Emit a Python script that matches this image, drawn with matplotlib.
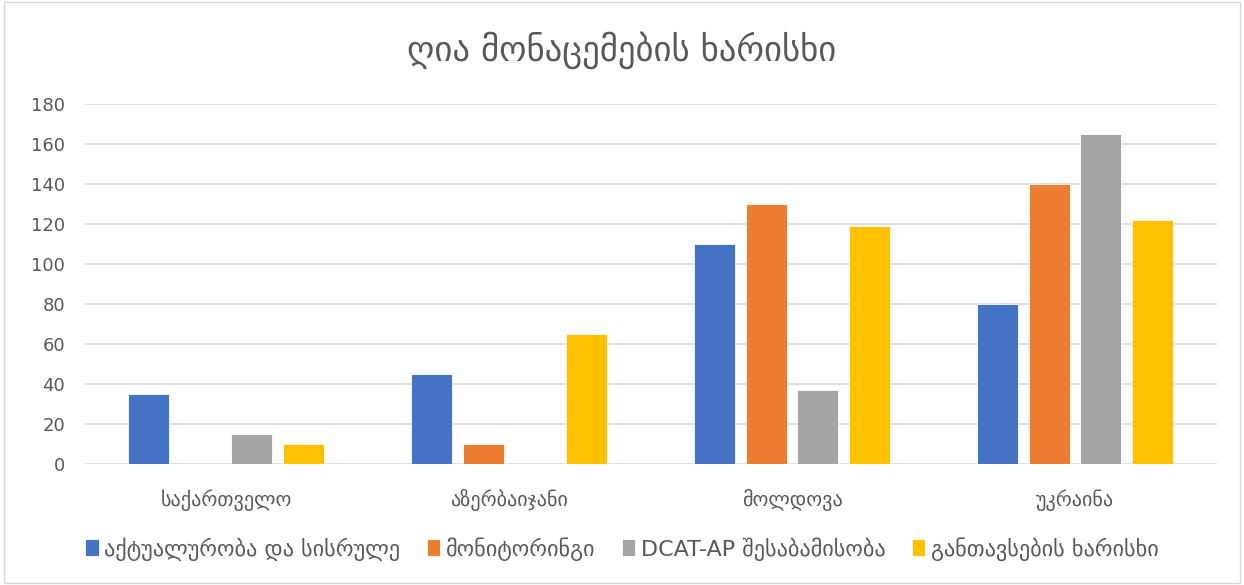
import matplotlib.pyplot as plt
import numpy as np
from matplotlib.patches import Rectangle

plt.rcParams['font.family'] = ['DejaVu Sans']

categories = ["საქართველო", "აზერბაიჯანი", "მოლდოვა", "უკრაინა"]
series_names = ["აქტუალურობა და სისრულე", "მონიტორინგი", "DCAT-AP შესაბამისობა", "განთავსების ხარისხი"]
actuality = [35, 45, 110, 80]
monitoring = [0, 10, 130, 140]
dcat = [15, 0, 37, 165]
placement = [10, 65, 119, 122]
colors = ["#4472C4", "#ED7D31", "#A5A5A5", "#FFC000"]

series = [actuality, monitoring, dcat, placement]
text_color = "#595959"

fig = plt.figure(figsize=(12.44, 5.85), dpi=100)
ax = fig.add_axes([0.068, 0.207, 0.910, 0.615])

x = np.arange(len(categories))
step = 0.182
width = 0.145
for i, vals in enumerate(series):
    ax.bar(x + (i - 1.5) * step, vals, width, color=colors[i], label=series_names[i],
           edgecolor="white", linewidth=0.6, zorder=3)

ax.set_xlim(-0.5, len(categories) - 0.5)
ax.set_ylim(0, 180)
ax.set_yticks(range(0, 181, 20))
ax.grid(axis="y", color="#D9D9D9", linewidth=1.2, zorder=0)
for s in ax.spines.values():
    s.set_visible(False)
ax.tick_params(axis="both", length=0, colors=text_color, labelsize=13)
ax.tick_params(axis="x", pad=18, labelsize=14.5)
ax.tick_params(axis="y", pad=14)
ax.set_xticks(x)
ax.set_xticklabels(categories)

fig.text(0.5, 1 - 50 / 585, "ღია მონაცემების ხარისხი", ha="center", va="center",
         fontsize=25, color=text_color)

leg = fig.legend(loc="center", bbox_to_anchor=(0.5, 1 - 549 / 585), ncol=4, frameon=False,
                 fontsize=16, handlelength=0.6, handleheight=0.8, handletextpad=0.25,
                 columnspacing=1.2)
for t in leg.get_texts():
    t.set_color(text_color)

fig.patches.append(Rectangle((0.003, 0.003), 0.994, 0.994, transform=fig.transFigure,
                             fill=False, edgecolor="#D9D9D9", linewidth=1))

fig.savefig("out.png", dpi=100, facecolor="white")
